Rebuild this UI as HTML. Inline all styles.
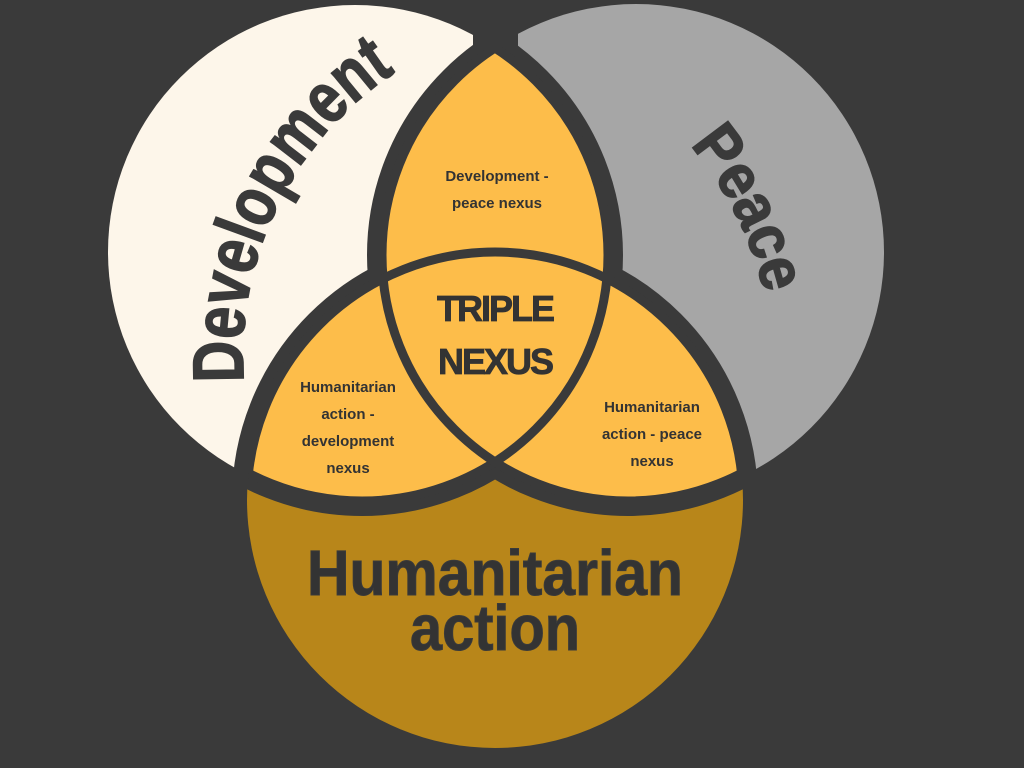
<!DOCTYPE html>
<html><head><meta charset="utf-8"><style>
html,body{margin:0;padding:0;background:#3a3a3a;}
svg{display:block;}
text{font-family:"Liberation Sans",sans-serif;font-weight:bold;fill:#333;}
</style></head><body>
<svg width="1024" height="768" viewBox="0 0 1024 768" xmlns="http://www.w3.org/2000/svg">
<defs>
  <mask id="mW"><rect width="1024" height="768" fill="#fff"/>
    <rect x="473" y="0" width="600" height="768" fill="#000"/>
    <circle cx="628" cy="255" r="246" fill="#000" stroke="#000" stroke-width="30"/>
    <circle cx="495" cy="500" r="248" fill="#000" stroke="#000" stroke-width="30"/></mask>
  <mask id="mG"><rect width="1024" height="768" fill="#fff"/>
    <rect x="0" y="0" width="518" height="768" fill="#000"/>
    <circle cx="362" cy="255" r="246" fill="#000" stroke="#000" stroke-width="30"/>
    <circle cx="495" cy="500" r="248" fill="#000" stroke="#000" stroke-width="30"/></mask>
  <mask id="mH"><rect width="1024" height="768" fill="#fff"/>
    <circle cx="362" cy="255" r="246" fill="#000" stroke="#000" stroke-width="30"/>
    <circle cx="628" cy="255" r="246" fill="#000" stroke="#000" stroke-width="30"/></mask>
  <clipPath id="cA"><circle cx="362" cy="255" r="246"/></clipPath>
  <clipPath id="cB"><circle cx="628" cy="255" r="246"/></clipPath>
  <clipPath id="cBC"><circle cx="628" cy="255" r="246"/><circle cx="495" cy="500" r="248"/></clipPath>
  <clipPath id="cAC"><circle cx="362" cy="255" r="246"/><circle cx="495" cy="500" r="248"/></clipPath>
  <clipPath id="cAB"><circle cx="362" cy="255" r="246"/><circle cx="628" cy="255" r="246"/></clipPath>
  <path id="pDev" d="M 244 382 A 340 340 0 0 1 405 66"/>
  <path id="pPeace" d="M 690 145 A 360 360 0 0 1 766 300"/>
</defs>
<rect width="1024" height="768" fill="#3a3a3a"/>
<circle cx="355" cy="252" r="247" fill="#fdf6ea" mask="url(#mW)"/>
<circle cx="636" cy="252" r="248" fill="#a6a6a6" mask="url(#mG)"/>
<circle cx="495" cy="500" r="248" fill="#b8861a" mask="url(#mH)"/>
<g clip-path="url(#cA)"><circle cx="628" cy="255" r="246" fill="#fdbd4a"/><circle cx="495" cy="500" r="248" fill="#fdbd4a"/></g>
<g clip-path="url(#cB)"><circle cx="495" cy="500" r="248" fill="#fdbd4a"/></g>
<circle cx="362" cy="255" r="246" fill="none" stroke="#3a3a3a" stroke-width="9" clip-path="url(#cBC)"/>
<circle cx="628" cy="255" r="246" fill="none" stroke="#3a3a3a" stroke-width="9" clip-path="url(#cAC)"/>
<circle cx="495" cy="500" r="248" fill="none" stroke="#3a3a3a" stroke-width="9" clip-path="url(#cAB)"/>

<text font-size="72" style="fill:#3a3a3a;stroke:#3a3a3a;stroke-width:1.5"><textPath href="#pDev" textLength="362" lengthAdjust="spacingAndGlyphs">Development</textPath></text>
<text font-size="64" style="fill:#3a3a3a;stroke:#3a3a3a;stroke-width:1.5"><textPath href="#pPeace" textLength="168" lengthAdjust="spacingAndGlyphs">Peace</textPath></text>

<g text-anchor="middle" font-size="15">
  <text x="497" y="181">Development -</text>
  <text x="497" y="208">peace nexus</text>
  <text x="348" y="392">Humanitarian</text>
  <text x="348" y="419">action -</text>
  <text x="348" y="446">development</text>
  <text x="348" y="473">nexus</text>
  <text x="652" y="412">Humanitarian</text>
  <text x="652" y="439">action - peace</text>
  <text x="652" y="466">nexus</text>
</g>
<g text-anchor="middle" font-size="36" letter-spacing="-2" style="stroke:#333;stroke-width:0.8">
  <text x="495" y="321">TRIPLE</text>
  <text x="495" y="374">NEXUS</text>
</g>
<g text-anchor="middle" font-size="64" style="fill:#3a3a3a;stroke:#3a3a3a;stroke-width:1">
  <text x="495" y="595" textLength="376" lengthAdjust="spacingAndGlyphs">Humanitarian</text>
  <text x="495" y="650" textLength="170" lengthAdjust="spacingAndGlyphs">action</text>
</g>
</svg>
</body></html>
